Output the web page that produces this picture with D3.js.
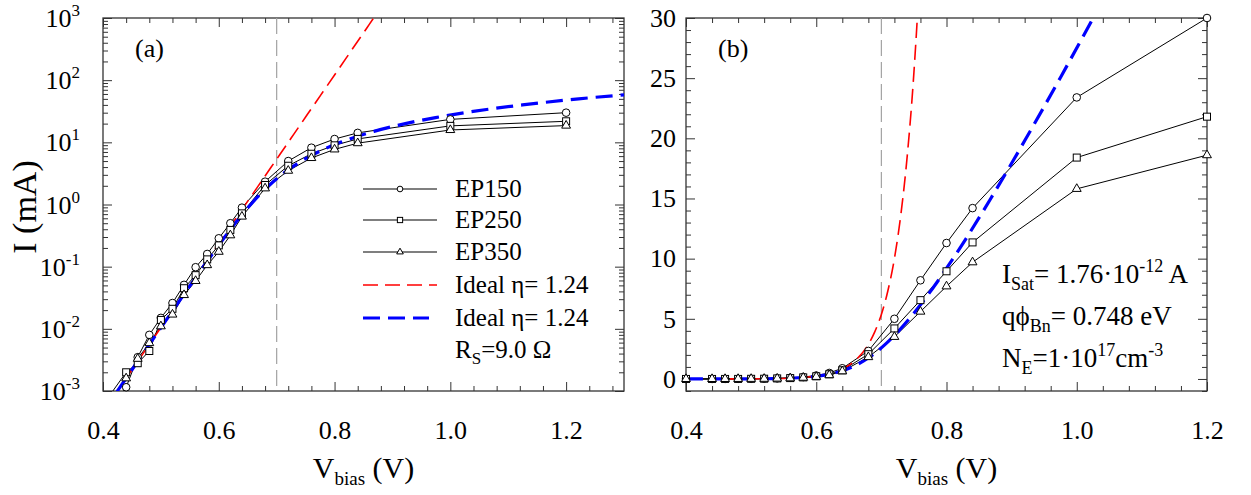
<!DOCTYPE html>
<html>
<head>
<meta charset="utf-8">
<script src="https://cdn.jsdelivr.net/npm/d3@7"></script>
<style>
  body { margin: 0; background: #fff; }
  svg { font-family: "Liberation Serif", "Times New Roman", serif; }
  .axis path { display: none; }
  .axis line { stroke: #333; stroke-width: 1; }
</style>
</head>
<body>
<div id="chart"></div>
<script>
// bias points of the measured diodes (V)
const vBias = [0.40, 0.44, 0.46, 0.48, 0.50, 0.52, 0.54, 0.56, 0.58, 0.60, 0.62, 0.64, 0.68, 0.72, 0.76, 0.80, 0.84, 1.00, 1.20];
// measured current, mA
const ep150 = [0.0004, 0.00115, 0.0035, 0.008, 0.015, 0.026, 0.051, 0.098, 0.16, 0.286, 0.50, 0.89, 2.33, 5.0, 8.2, 11.3, 14.2, 23.4, 30.0];
const ep250 = [0.0006, 0.0020, 0.0028, 0.0044, 0.0139, 0.021, 0.045, 0.073, 0.131, 0.22, 0.39, 0.72, 2.06, 4.2, 6.55, 8.95, 11.35, 18.4, 21.8];
const ep350 = [0.0005, 0.0016, 0.0033, 0.0059, 0.011, 0.017, 0.035, 0.059, 0.106, 0.174, 0.32, 0.64, 1.82, 3.5, 5.6, 7.7, 9.7, 15.8, 18.6];

// ideal diode, eta = 1.24 (red dashed)
const vIdeal = [0.40, 0.42, 0.44, 0.46, 0.48, 0.50, 0.52, 0.54, 0.56, 0.58, 0.60, 0.62, 0.64, 0.66, 0.68, 0.69, 0.70, 0.71, 0.72, 0.73, 0.74, 0.75, 0.76, 0.77, 0.78, 0.80, 0.82, 0.84, 0.86, 0.88];
const iIdeal = [0.00046, 0.00086, 0.0016, 0.0030, 0.0056, 0.0105, 0.0195, 0.0364, 0.068, 0.127, 0.237, 0.442, 0.825, 1.54, 2.87, 3.93, 5.36, 7.33, 10.0, 13.7, 18.7, 25.5, 34.9, 47.6, 65.0, 121, 226, 423, 789, 1470];

// ideal diode with series resistance Rs = 9 ohm (blue dashed)
const vIdealRs = [0.3999, 0.4248, 0.4600, 0.4987, 0.5341, 0.5733, 0.6103, 0.6352, 0.6552, 0.6727, 0.6864, 0.7084, 0.7267, 0.7428, 0.7577, 0.7849, 0.8100, 0.8339, 0.8680, 0.9222, 0.9744, 1.0252, 1.1245, 1.2216, 1.3175];
const iIdealRs = [0.00046, 0.001, 0.003, 0.01, 0.03, 0.1, 0.3, 0.6, 1, 1.5, 2, 3, 4, 5, 6, 8, 10, 12, 15, 20, 25, 30, 40, 50, 60];

const seriesNames = ["EP150", "EP250", "EP350"];
const seriesValues = [ep150, ep250, ep350];
const seriesSymbols = ["circle", "square", "triangle"];

const xMajorTicks = [0.4, 0.6, 0.8, 1.0, 1.2];
const logMajorTicks = [1e-3, 1e-2, 1e-1, 1e0, 1e1, 1e2, 1e3];
const logExponents = ["-3", "-2", "-1", "0", "1", "2", "3"];
const linMajorTicks = [0, 5, 10, 15, 20, 25, 30];

const SERIF = '"Liberation Serif", "Times New Roman", serif';
const W = 1251, H = 495;
const svg = d3.select("#chart").append("svg").attr("width", W).attr("height", H);

function toRows(xs, ys) {
    return xs.map((x, i) => ({x: x, y: ys[i]}));
}

function drawMarker(g, type, cx, cy, s) {
    if (type === "circle") {
        g.append("circle").attr("cx", cx).attr("cy", cy).attr("r", 3.8 * s)
            .attr("fill", "#fff").attr("stroke", "#000").attr("stroke-width", 1);
    } else if (type === "square") {
        let a = 7 * s;
        g.append("rect").attr("x", cx - a / 2).attr("y", cy - a / 2).attr("width", a).attr("height", a)
            .attr("fill", "#fff").attr("stroke", "#000").attr("stroke-width", 1);
    } else {
        g.append("path").attr("d", d3.symbol(d3.symbolTriangle).size(34 * s * s)())
            .attr("transform", `translate(${cx},${cy})`)
            .attr("fill", "#fff").attr("stroke", "#000").attr("stroke-width", 1);
    }
}

class IVPanel {
    constructor(cfg) {
        this.cfg = cfg;
        this.initVis();
    }

    initVis() {
        let vis = this;
        let c = vis.cfg;
        vis.g = svg.append("g");

        vis.x = d3.scaleLinear().domain(c.xDomain).range([c.left, c.right]);
        vis.y = c.log ? d3.scaleLog().domain([1e-3, 1e3]).range([c.bottom, c.top])
                      : d3.scaleLinear().domain([-1, 30]).range([c.bottom, c.top]);

        // clip so the curves stop at the frame
        vis.clipId = "clip-" + c.name;
        svg.append("clipPath").attr("id", vis.clipId)
            .append("rect").attr("x", c.left).attr("y", c.top)
            .attr("width", c.right - c.left).attr("height", c.bottom - c.top);

        vis.drawAxes();
        vis.drawData();
    }

    addAxis(axis, tx, ty) {
        let vis = this;
        let a = vis.g.append("g").attr("class", "axis")
            .attr("transform", `translate(${tx},${ty})`)
            .call(axis);
        // d3 puts sans-serif on the group, switch labels back to Times
        a.attr("font-family", SERIF).attr("font-size", 26);
        a.selectAll("text").style("font-family", SERIF).style("font-size", "26px").attr("fill", "#000");
        return a;
    }

    drawAxes() {
        let vis = this;
        let c = vis.cfg;
        let xMinor = d3.range(0.4, c.xDomain[1] + 0.001, 0.04).filter(v => !xMajorTicks.some(m => Math.abs(m - v) < 1e-6));
        let yMinor;
        if (c.log) {
            yMinor = [];
            for (let e = -3; e < 3; e++) for (let k = 2; k <= 9; k++) yMinor.push(k * Math.pow(10, e));
        } else {
            yMinor = d3.range(-1, 31).filter(v => v % 5 !== 0);
        }
        let majorLen = 9, minorLen = 5;

        // bottom, with labels
        vis.addAxis(d3.axisBottom(vis.x).tickValues(xMajorTicks).tickSize(-majorLen).tickPadding(30).tickFormat(d3.format(".1f")), 0, c.bottom);
        vis.addAxis(d3.axisBottom(vis.x).tickValues(xMinor).tickSize(-minorLen).tickFormat(""), 0, c.bottom);
        // top
        vis.addAxis(d3.axisTop(vis.x).tickValues(xMajorTicks).tickSize(-majorLen).tickFormat(""), 0, c.top);
        vis.addAxis(d3.axisTop(vis.x).tickValues(xMinor).tickSize(-minorLen).tickFormat(""), 0, c.top);

        let yMajor = c.log ? logMajorTicks : linMajorTicks;
        // left
        let leftAx = d3.axisLeft(vis.y).tickValues(yMajor).tickSize(-majorLen).tickPadding(10);
        if (c.log) leftAx.tickFormat("");
        vis.addAxis(leftAx, c.left, 0);
        vis.addAxis(d3.axisLeft(vis.y).tickValues(yMinor).tickSize(-minorLen).tickFormat(""), c.left, 0);
        // right
        vis.addAxis(d3.axisRight(vis.y).tickValues(yMajor).tickSize(-majorLen).tickFormat(""), c.right, 0);
        vis.addAxis(d3.axisRight(vis.y).tickValues(yMinor).tickSize(-minorLen).tickFormat(""), c.right, 0);

        // log labels need superscripts, do them by hand
        if (c.log) {
            let lab = vis.g.selectAll(".loglab").data(logMajorTicks).enter().append("text")
                .attr("class", "loglab")
                .attr("x", c.left - 23)
                .attr("y", d => vis.y(d) + 9)
                .attr("text-anchor", "end")
                .style("font-family", SERIF)
                .style("font-size", "26px");
            lab.append("tspan").text("10");
            lab.append("tspan").attr("dy", -11).style("font-size", "17px").text((d, i) => logExponents[i]);
        }

        // frame
        vis.g.append("rect").attr("x", c.left).attr("y", c.top)
            .attr("width", c.right - c.left).attr("height", c.bottom - c.top)
            .attr("fill", "none").attr("stroke", "#333").attr("stroke-width", 1.3);

        // panel tag
        vis.g.append("text").attr("x", c.left + 32).attr("y", 57).style("font-size", "26px").text(c.tag);

        // x title
        let xt = vis.g.append("text").attr("x", (c.left + c.right) / 2).attr("y", 478)
            .attr("text-anchor", "middle").style("font-size", "30px");
        xt.append("tspan").text("V");
        xt.append("tspan").attr("dy", 7).style("font-size", "19px").text("bias");
        xt.append("tspan").attr("dy", -7).text(" (V)");
    }

    drawData() {
        let vis = this;
        let c = vis.cfg;
        let valid = d => c.log ? d.y >= 1e-3 : true;

        let plot = vis.g.append("g").attr("clip-path", `url(#${vis.clipId})`);

        // vertical reference at 0.7 V
        plot.append("line")
            .attr("x1", vis.x(0.7)).attr("x2", vis.x(0.7))
            .attr("y1", c.top).attr("y2", c.bottom)
            .attr("stroke", "#a3a3a3").attr("stroke-width", 1.2)
            .attr("stroke-dasharray", "16,6");

        let line = d3.line().x(d => vis.x(d.x)).y(d => vis.y(d.y));
        let smooth = d3.line().x(d => vis.x(d.x)).y(d => vis.y(d.y)).curve(d3.curveMonotoneX);

        seriesValues.forEach((vals, k) => {
            let rows = toRows(vBias, vals);
            plot.append("path").datum(rows).attr("d", line)
                .attr("fill", "none").attr("stroke", "#000").attr("stroke-width", 1);
        });
        seriesValues.forEach((vals, k) => {
            toRows(vBias, vals).filter(valid).forEach(d => {
                drawMarker(vis.g, seriesSymbols[k], vis.x(d.x), vis.y(d.y), 1);
            });
        });

        plot.append("path").datum(toRows(vIdeal, iIdeal)).attr("d", smooth)
            .attr("fill", "none").attr("stroke", "#ff0000").attr("stroke-width", 1.6)
            .attr("stroke-dasharray", "15,7");

        plot.append("path").datum(toRows(vIdealRs, iIdealRs)).attr("d", smooth)
            .attr("fill", "none").attr("stroke", "#0000ff").attr("stroke-width", 3.2)
            .attr("stroke-dasharray", "17,8");
    }
}

let panelA = new IVPanel({name: "a", tag: "(a)", log: true, xDomain: [0.4, 1.3], left: 103, right: 624, top: 18, bottom: 391});
let panelB = new IVPanel({name: "b", tag: "(b)", log: false, xDomain: [0.4, 1.2], left: 686, right: 1207, top: 18, bottom: 391});

// y title on the left panel
svg.append("text").attr("transform", "translate(36,207) rotate(-90)")
    .attr("text-anchor", "middle").style("font-size", "34px").text("I (mA)");

// legend inside panel (a)
let leg = svg.append("g");
let legRows = [189, 220, 252, 285, 318];
seriesNames.forEach((name, k) => {
    leg.append("line").attr("x1", 363).attr("x2", 437).attr("y1", legRows[k]).attr("y2", legRows[k])
        .attr("stroke", "#000").attr("stroke-width", 1.2);
    drawMarker(leg, seriesSymbols[k], 400, legRows[k], 0.75);
    leg.append("text").attr("x", 455).attr("y", legRows[k] + 8).style("font-size", "25px").text(name);
});
leg.append("line").attr("x1", 363).attr("x2", 437).attr("y1", legRows[3]).attr("y2", legRows[3])
    .attr("stroke", "#ff0000").attr("stroke-width", 1.6).attr("stroke-dasharray", "15,7");
leg.append("text").attr("x", 455).attr("y", legRows[3] + 8).style("font-size", "25px").text("Ideal \u03B7= 1.24");
leg.append("line").attr("x1", 363).attr("x2", 429).attr("y1", legRows[4]).attr("y2", legRows[4])
    .attr("stroke", "#0000ff").attr("stroke-width", 3.2).attr("stroke-dasharray", "17,8");
leg.append("text").attr("x", 455).attr("y", legRows[4] + 8).style("font-size", "25px").text("Ideal \u03B7= 1.24");
let rs = leg.append("text").attr("x", 455).attr("y", 358).style("font-size", "25px");
rs.append("tspan").text("R");
rs.append("tspan").attr("dy", 6).style("font-size", "17px").text("S");
rs.append("tspan").attr("dy", -6).text("=9.0 \u03A9");

// fit parameters in panel (b)
let note = svg.append("g").style("font-size", "27px");
let t1 = note.append("text").attr("x", 1002).attr("y", 283);
t1.append("tspan").text("I");
t1.append("tspan").attr("dy", 7).style("font-size", "18px").text("Sat");
t1.append("tspan").attr("dy", -7).text("= 1.76\u00B710");
t1.append("tspan").attr("dy", -11).style("font-size", "18px").text("-12");
t1.append("tspan").attr("dy", 11).text(" A");
let t2 = note.append("text").attr("x", 1002).attr("y", 325);
t2.append("tspan").text("q\u03D5");
t2.append("tspan").attr("dy", 7).style("font-size", "18px").text("Bn");
t2.append("tspan").attr("dy", -7).text("= 0.748 eV");
let t3 = note.append("text").attr("x", 1002).attr("y", 367);
t3.append("tspan").text("N");
t3.append("tspan").attr("dy", 7).style("font-size", "18px").text("E");
t3.append("tspan").attr("dy", -7).text("=1\u00B710");
t3.append("tspan").attr("dy", -11).style("font-size", "18px").text("17");
t3.append("tspan").attr("dy", 11).text("cm");
t3.append("tspan").attr("dy", -11).style("font-size", "18px").text("-3");
</script>
</body>
</html>
